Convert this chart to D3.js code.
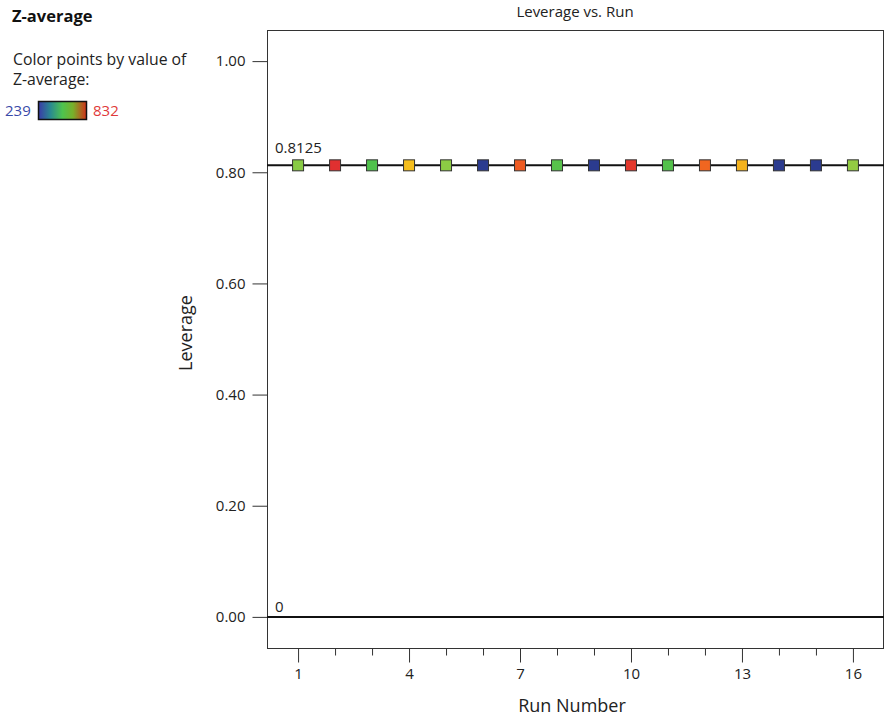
<!DOCTYPE html>
<html>
<head>
<meta charset="utf-8">
<script src="https://cdn.jsdelivr.net/npm/d3@7"></script>
<style>
  body { margin: 0; background: #fff; }
  svg { font-family: "Open Sans", "Noto Sans", sans-serif; }
</style>
</head>
<body>
<svg id="chart" width="885" height="719"></svg>
<script>
// data
var runs = [1, 2, 3, 4, 5, 6, 7, 8, 9, 10, 11, 12, 13, 14, 15, 16];
var leverage = [0.8125, 0.8125, 0.8125, 0.8125, 0.8125, 0.8125, 0.8125, 0.8125,
                0.8125, 0.8125, 0.8125, 0.8125, 0.8125, 0.8125, 0.8125, 0.8125];
var zAverage = [565, 832, 485, 650, 570, 239, 740, 495, 255, 815, 490, 725, 660, 250, 270, 575];
var refLines = [0.8125, 0];
var refLabels = ["0.8125", "0"];
var yTicks = [0, 0.2, 0.4, 0.6, 0.8, 1.0];
var xMajor = [1, 4, 7, 10, 13, 16];
var zRange = [239, 832];

//size of the plot area
var w = 885, h = 719;
var m = { left: 267, right: 1, top: 30, bottom: 71 };
var font = '"Open Sans", sans-serif';

var svg = d3.select('#chart');

var x = d3.scaleLinear().domain([0.16, 16.84]).range([m.left, w - m.right]);
var y = d3.scaleLinear().domain([-0.056, 1.056]).range([h - m.bottom, m.top]);

var color = d3.scaleLinear()
  .domain([239, 330, 480, 570, 650, 730, 832])
  .range(['#2b3b8f', '#2b3b8f', '#4cc04c', '#8ccc44', '#f5be1d', '#f06020', '#e03030']);

//title
svg.append('text')
  .attr('x', 575).attr('y', 17)
  .attr('text-anchor', 'middle')
  .attr('font-size', 15).attr('fill', '#222')
  .text('Leverage vs. Run');

//frame
svg.append('rect')
  .attr('x', m.left + 0.5).attr('y', m.top + 0.5)
  .attr('width', w - m.left - m.right - 1)
  .attr('height', h - m.top - m.bottom)
  .attr('fill', 'none').attr('stroke', '#333');

//y axis
var yAxis = svg.append('g')
  .attr('transform', 'translate(' + (m.left + 0.5) + ',0)')
  .call(d3.axisLeft(y).tickValues(yTicks).tickSize(15).tickPadding(7)
    .tickFormat(d3.format('.2f')));
yAxis.select('.domain').remove();
yAxis.selectAll('text').attr('font-size', 15).attr('fill', '#222')
  .style('font-family', font);
yAxis.selectAll('line').attr('stroke', '#333');

//x axis, minor and major ticks
var xBase = h - m.bottom + 0.5;
var xMinor = svg.append('g')
  .attr('transform', 'translate(0,' + xBase + ')')
  .call(d3.axisBottom(x).tickValues(runs.filter(function (r) { return xMajor.indexOf(r) < 0; }))
    .tickSize(7).tickFormat(''));
xMinor.select('.domain').remove();
xMinor.selectAll('line').attr('stroke', '#333');

var xAxis = svg.append('g')
  .attr('transform', 'translate(0,' + xBase + ')')
  .call(d3.axisBottom(x).tickValues(xMajor).tickSize(14).tickPadding(6));
xAxis.select('.domain').remove();
xAxis.selectAll('line').attr('stroke', '#333');
xAxis.selectAll('text').attr('font-size', 15).attr('fill', '#222')
  .style('font-family', font);

//axis titles
svg.append('text')
  .attr('x', 572).attr('y', 712)
  .attr('text-anchor', 'middle')
  .attr('font-size', 18).attr('fill', '#222')
  .text('Run Number');

svg.append('text')
  .attr('transform', 'translate(192,333) rotate(-90)')
  .attr('text-anchor', 'middle')
  .attr('font-size', 18).attr('fill', '#222')
  .text('Leverage');

//reference lines
svg.selectAll('.ref')
  .data(refLines)
  .enter().append('line')
  .attr('class', 'ref')
  .attr('x1', m.left).attr('x2', w - m.right)
  .attr('y1', function (d) { return y(d); })
  .attr('y2', function (d) { return y(d); })
  .attr('stroke', '#111').attr('stroke-width', 2);

svg.selectAll('.refLabel')
  .data(refLines)
  .enter().append('text')
  .attr('class', 'refLabel')
  .attr('x', m.left + 8)
  .attr('y', function (d) { return y(d) - (d > 0 ? 12 : 5); })
  .attr('font-size', 15).attr('fill', '#222')
  .text(function (d, i) { return refLabels[i]; });

//points
var s = 11;
svg.selectAll('.pt')
  .data(runs)
  .enter().append('rect')
  .attr('class', 'pt')
  .attr('x', function (d) { return x(d) - s / 2; })
  .attr('y', function (d, i) { return y(leverage[i]) - s / 2; })
  .attr('width', s).attr('height', s)
  .attr('fill', function (d, i) { return color(zAverage[i]); })
  .attr('stroke', '#333').attr('stroke-width', 1);

//legend
svg.append('text')
  .attr('x', 12).attr('y', 22)
  .attr('font-size', 16.5).attr('font-weight', 'bold').attr('fill', '#111')
  .text('Z-average');

svg.append('text')
  .attr('x', 13).attr('y', 65)
  .attr('font-size', 15.8).attr('fill', '#222')
  .text('Color points by value of');
svg.append('text')
  .attr('x', 13).attr('y', 85)
  .attr('font-size', 15.8).attr('fill', '#222')
  .text('Z-average:');

var grad = svg.append('defs').append('linearGradient').attr('id', 'zgrad');
var gradStops = [['0%', '#3a3aa8'], ['25%', '#2a8a90'], ['50%', '#4ec34e'], ['72%', '#78b02a'], ['100%', '#d2301a']];
grad.selectAll('stop')
  .data(gradStops)
  .enter().append('stop')
  .attr('offset', function (d) { return d[0]; })
  .attr('stop-color', function (d) { return d[1]; });

svg.append('rect')
  .attr('x', 38.5).attr('y', 101.5)
  .attr('width', 48).attr('height', 18)
  .attr('fill', 'url(#zgrad)')
  .attr('stroke', '#111').attr('stroke-width', 1.5);

svg.append('text')
  .attr('x', 5).attr('y', 116)
  .attr('font-size', 15).attr('fill', '#3a4aa8')
  .text(zRange[0]);
svg.append('text')
  .attr('x', 93).attr('y', 116)
  .attr('font-size', 15).attr('fill', '#e03a3a')
  .text(zRange[1]);
</script>
</body>
</html>
